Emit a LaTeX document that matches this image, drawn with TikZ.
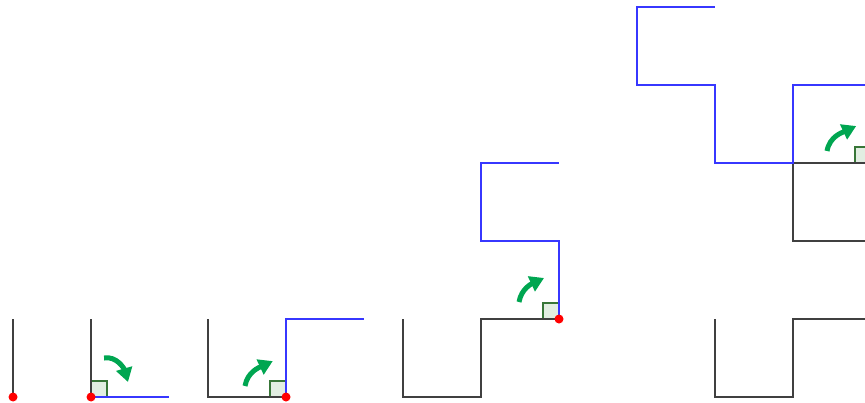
\documentclass[tikz,border=0pt]{standalone}
\usetikzlibrary{arrows.meta}

\definecolor{curveblack}{RGB}{64,64,64}
\definecolor{curveblue}{RGB}{55,55,255}
\definecolor{turngreen}{RGB}{0,166,81}
\definecolor{anglefill}{RGB}{226,238,226}
\definecolor{angledraw}{RGB}{56,118,56}

\tikzset{
  oldpart/.style={curveblack, line width=1.5pt},
  newpart/.style={curveblue, line width=1.5pt},
  pivotdot/.style={fill=red},
  rightangle/.style={fill=anglefill, draw=angledraw, line width=1.3pt},
  turn/.style={turngreen, line width=5pt, -{Triangle[length=14pt,width=16pt]}},
}

\begin{document}
\begin{tikzpicture}[x=78pt,y=78pt]

% Frame (the last stage runs off the right edge)
\clip (-0.167,-0.064) rectangle (10.923,5.09);

% Stage 1
\coordinate (p1) at (0,0);
\draw[oldpart] (0,1) -- (p1);
\fill[pivotdot] (p1) circle (4.5pt);

% Stage 2
\coordinate (p2) at (1,0);
\draw[rightangle] (p2) rectangle ++(0.205,0.205);
\draw[oldpart] (1,1) -- (p2);
\draw[newpart] (p2) -- (2,0);
\draw[turn] (1.167,0.5) to[out=10,in=106] (1.474,0.192);
\fill[pivotdot] (p2) circle (4.5pt);

% Stage 3
\coordinate (p3) at (3.5,0);
\draw[rightangle] (p3) rectangle ++(-0.205,0.205);
\draw[oldpart] (2.5,1) -- (2.5,0) -- (p3);
\draw[newpart] (p3) -- (3.5,1) -- (4.5,1);
\draw[turn] (2.974,0.141) to[out=80,in=205] (3.33,0.46);
\fill[pivotdot] (p3) circle (4.5pt);

% Stage 4
\coordinate (p4) at (7,1);
\draw[rightangle] (p4) rectangle ++(-0.205,0.205);
\draw[oldpart] (5,1) -- (5,0) -- (6,0) -- (6,1) -- (p4);
\draw[newpart] (p4) -- (7,2) -- (6,2) -- (6,3) -- (7,3);
\draw[turn] (6.487,1.218) to[out=80,in=205] (6.808,1.526);
\fill[pivotdot] (p4) circle (4.5pt);

% Stage 5
\coordinate (p5) at (11,3);
\draw[rightangle] (p5) rectangle ++(-0.205,0.205);
\draw[oldpart] (9,1) -- (9,0) -- (10,0) -- (10,1) -- (11,1) -- (11,2)
  -- (10,2) -- (10,3) -- (p5);
\draw[newpart] (p5) -- (11,4) -- (10,4) -- (10,3) -- (9,3) -- (9,4)
  -- (8,4) -- (8,5) -- (9,5);
\draw[turn] (10.436,3.154) to[out=80,in=205] (10.81,3.474);
\fill[pivotdot] (p5) circle (4.5pt);

\end{tikzpicture}
\end{document}
